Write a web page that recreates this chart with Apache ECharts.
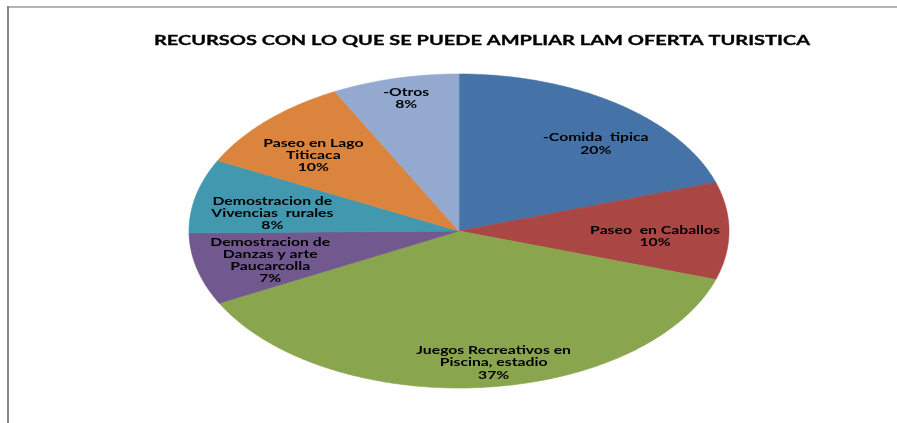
<!DOCTYPE html>
<html><head><meta charset="utf-8">
<script src="https://cdn.jsdelivr.net/npm/echarts@6/dist/echarts.min.js"></script>
<style>html,body{margin:0;padding:0;background:#fff}#c{width:897px;height:423px}</style>
</head><body><div id="c"></div>
<script>
const title = 'RECURSOS CON LO QUE SE PUEDE AMPLIAR LAM OFERTA TURISTICA';
const categories = ['-Comida  tipica', 'Paseo  en Caballos', 'Juegos Recreativos en\nPiscina, estadio', 'Demostracion de\nDanzas y arte\nPaucarcolla', 'Demostracion de\nVivencias  rurales', 'Paseo en Lago\nTiticaca', '-Otros'];
const values = [20, 10, 37.4, 7.4, 7.6, 10, 7.6];
const colors = ['#4572A7', '#AA4643', '#89A54E', '#71588F', '#4198AF', '#DB843D', '#93A9CF'];

// layout (not data): label radial fraction and angle shift in degrees
const labelR = [0.75, 0.727, 0.85, 0.724, 0.70, 0.722, 0.864];
const labelShift = [6.5, 3, -4, -1, -4, -3, 0.6];
const CX = 459, CY = 231, RX = 270, RY = 157;
const LABEL_SX = 1.5, TITLE_SX = 1.48;

const total = values.reduce((a, b) => a + b, 0);
const starts = [];
let acc = 0;
values.forEach(v => { starts.push(acc); acc += v; });

const chart = echarts.init(document.getElementById('c'), null, { renderer: 'canvas' });
chart.setOption({
  animation: false,
  graphic: [
    { type: 'line', shape: { x1: 8, y1: 7, x2: 897, y2: 7 }, style: { stroke: '#b4b4b4', lineWidth: 2 } },
    { type: 'line', shape: { x1: 8, y1: 6, x2: 8, y2: 423 }, style: { stroke: '#888888', lineWidth: 2 } },
    { type: 'text', x: 482, y: 41, scaleX: TITLE_SX,
      style: { text: title, align: 'center', verticalAlign: 'middle', font: 'bold 13.5px Lato', fill: '#000', stroke: '#000', lineWidth: 0.3 } }
  ],
  series: [{
    type: 'custom',
    coordinateSystem: 'none',
    data: values.map((v, i) => ({ value: [v], name: categories[i] })),
    renderItem: function (params, api) {
      const i = params.dataIndex;
      const v = api.value(0);
      const a0 = starts[i] / total * 2 * Math.PI;
      const a1 = (starts[i] + v) / total * 2 * Math.PI;
      const n = Math.max(2, Math.ceil((a1 - a0) / 0.01));
      const pts = [[CX, CY]];
      for (let k = 0; k <= n; k++) {
        const t = a0 + (a1 - a0) * k / n;
        pts.push([CX + RX * Math.sin(t), CY - RY * Math.cos(t)]);
      }
      const mid = (a0 + a1) / 2 + labelShift[i] * Math.PI / 180;
      const lx = CX + labelR[i] * RX * Math.sin(mid);
      const ly = CY - labelR[i] * RY * Math.cos(mid);
      const pct = Math.round(v / total * 100) + '%';
      return {
        type: 'group',
        children: [
          { type: 'polygon', shape: { points: pts }, style: { fill: colors[i], stroke: colors[i], lineWidth: 0.6 } },
          { type: 'text', x: lx, y: ly, scaleX: LABEL_SX, z2: 10,
            style: { text: categories[i] + '\n' + pct, x: 0, y: 0, align: 'center', verticalAlign: 'middle',
                     font: 'bold 10.5px Lato', lineHeight: 12.2, fill: '#000' } }
        ]
      };
    }
  }]
});
</script></body></html>
